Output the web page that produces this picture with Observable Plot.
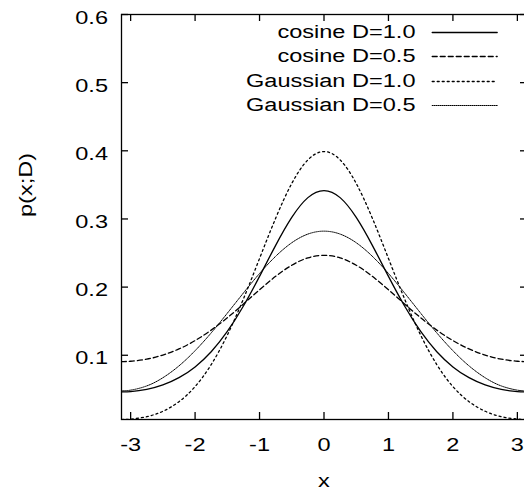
<!DOCTYPE html>
<html><head><meta charset="utf-8">
<script src="https://cdn.jsdelivr.net/npm/d3@7"></script>
<script src="https://cdn.jsdelivr.net/npm/@observablehq/plot@0.6"></script>
<style>html,body{margin:0;padding:0;overflow:hidden;background:#fff;} svg{max-width:none !important;}</style>
</head><body><div id="chart"></div>
<script>
// x positions (radians) at which the curves were read
const xs = [-3.1416,-3,-2.75,-2.5,-2.25,-2,-1.75,-1.5,-1.25,-1,-0.75,-0.5,-0.25,0,0.25,0.5,0.75,1,1.25,1.5,1.75,2,2.25,2.5,2.75,3,3.1416];
const cosD10 = [0.0463,0.0467,0.0499,0.0564,0.0671,0.0829,0.1052,0.1349,0.1723,0.2158,0.2613,0.3023,0.3313,0.3417,0.3313,0.3023,0.2613,0.2158,0.1723,0.1349,0.1052,0.0829,0.0671,0.0564,0.0499,0.0467,0.0463];
const cosD05 = [0.0908,0.0912,0.0943,0.1003,0.1093,0.1215,0.1369,0.1550,0.1752,0.1961,0.2158,0.2321,0.2429,0.2467,0.2429,0.2321,0.2158,0.1961,0.1752,0.1550,0.1369,0.1215,0.1093,0.1003,0.0943,0.0912,0.0908];
const gaussD10 = [0.0057,0.0063,0.0099,0.0178,0.0319,0.0540,0.0863,0.1295,0.1827,0.2420,0.3011,0.3521,0.3867,0.3989,0.3867,0.3521,0.3011,0.2420,0.1827,0.1295,0.0863,0.0540,0.0319,0.0178,0.0099,0.0063,0.0057];
const gaussD05 = [0.0478,0.0488,0.0550,0.0670,0.0844,0.1067,0.1328,0.1617,0.1914,0.2200,0.2452,0.2651,0.2778,0.2821,0.2778,0.2651,0.2452,0.2200,0.1914,0.1617,0.1328,0.1067,0.0844,0.0670,0.0550,0.0488,0.0478];
const seriesNames = ["cosine D=1.0","cosine D=0.5","Gaussian D=1.0","Gaussian D=0.5"];
const seriesValues = [cosD10, cosD05, gaussD10, gaussD05];
const xTicks = [-3,-2,-1,0,1,2,3];
const yTicks = [0.1,0.2,0.3,0.4,0.5,0.6];
const xLabel = "x";
const yLabel = "p(x;D)";

// styles (kept apart from data)
const styles = [
  {dash: null, width: 1.3},
  {dash: "5,3", width: 1.3},
  {dash: "2,3", width: 1.3},
  {dash: "1,1", width: 1}
];
const legendTextDy = [23, 47, 72, 96];
const legendLineDy = [18, 42, 67, 91];
const lineShape = {draw(ctx, l) { ctx.moveTo(0, 0); ctx.lineTo(0, -l); }};

const marks = [];
seriesValues.forEach((vals, s) => {
  const data = xs.map((x, i) => ({x, y: vals[i]}));
  marks.push(Plot.line(data, {x: "x", y: "y", curve: "natural", stroke: "black",
    strokeWidth: styles[s].width, strokeDasharray: styles[s].dash || undefined, clip: true}));
  marks.push(Plot.text([seriesNames[s]], {frameAnchor: "top-right", textAnchor: "end", lineAnchor: "bottom",
    dx: -111, dy: legendTextDy[s], fill: "black"}));
  marks.push(Plot.vector([seriesNames[s]], {frameAnchor: "top-right", dx: -94.3, dy: legendLineDy[s],
    length: 65, rotate: 90, anchor: "start", shape: lineShape, stroke: "black",
    strokeWidth: styles[s].width, strokeDasharray: styles[s].dash || undefined}));
});

const chart = Plot.plot({
  width: 530, height: 493,
  marginLeft: 121, marginRight: 4, marginTop: 14, marginBottom: 74,
  style: {fontFamily: "'Liberation Sans', Arial, Helvetica, sans-serif", fontSize: "19px", background: "white", color: "black", maxWidth: "none"},
  x: {domain: [-Math.PI, Math.PI], axis: null},
  y: {domain: [0.00574, 0.6], axis: null},
  marks: [
    ...marks,
    Plot.axisX(xTicks, {anchor: "bottom", tickSize: -7, fill: "none", label: null, strokeWidth: 1.3}),
    Plot.axisX(xTicks, {anchor: "top", tickSize: -6, fill: "none", label: null, strokeWidth: 1.3}),
    Plot.axisY(yTicks, {anchor: "left", tickSize: -7, fill: "none", label: null, strokeWidth: 1.3}),
    Plot.axisY(yTicks, {anchor: "right", tickSize: -7, fill: "none", label: null, strokeWidth: 1.3}),
    Plot.frame({stroke: "black", strokeWidth: 1.3}),
    Plot.text(xTicks, {x: d => d, frameAnchor: "bottom", lineAnchor: "top", dy: 18, text: d => String(d), fill: "black"}),
    Plot.text(yTicks, {y: d => d, frameAnchor: "left", textAnchor: "end", dx: -13.5, dy: 3, text: d => d.toFixed(1), fill: "black"}),
    Plot.text([xLabel], {frameAnchor: "bottom", lineAnchor: "middle", dy: 61, fill: "black"}),
    Plot.text([yLabel], {frameAnchor: "left", rotate: -90, dx: -96, fill: "black"})
  ]
});
chart.style.maxWidth = "none";
// horizontally stretched glyphs, as in the reference
chart.querySelectorAll("text").forEach(t => {
  const tr = t.getAttribute("transform") || "";
  t.setAttribute("transform", tr + " scale(1.24,1)");
});
document.getElementById("chart").appendChild(chart);
</script>
</body></html>
